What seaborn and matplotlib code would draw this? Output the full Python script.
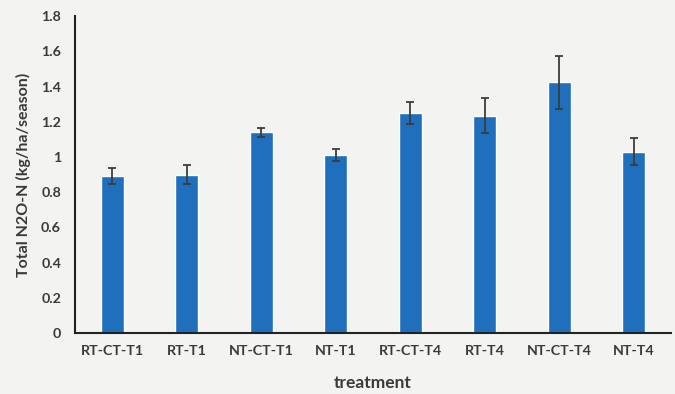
import matplotlib
matplotlib.use('Agg')
import matplotlib.pyplot as plt
import seaborn as sns
import pandas as pd

# 数据
treatments = ['RT-CT-T1', 'RT-T1', 'NT-CT-T1', 'NT-T1',
              'RT-CT-T4', 'RT-T4', 'NT-CT-T4', 'NT-T4']
n2o_total = [0.89, 0.90, 1.14, 1.01, 1.25, 1.235, 1.425, 1.03]
n2o_err = [0.045, 0.055, 0.025, 0.035, 0.065, 0.10, 0.15, 0.075]
y_ticks = [0, 0.2, 0.4, 0.6, 0.8, 1, 1.2, 1.4, 1.6, 1.8]
y_tick_labels = ['0', '0.2', '0.4', '0.6', '0.8', '1', '1.2', '1.4', '1.6', '1.8']

bg = '#f3f3f1'
bar_color = '#1f6fbd'
text_color = '#3a3a3a'

sns.set_style('white')
plt.rcParams['font.family'] = ['Lato', 'DejaVu Sans']

df = pd.DataFrame({'treatment': treatments, 'n2o': n2o_total, 'err': n2o_err})

fig = plt.figure(figsize=(6.75, 3.94), dpi=100, facecolor=bg)
ax = fig.add_axes([0.111, 0.155, 0.883, 0.804])
ax.set_facecolor(bg)

sns.barplot(data=df, x='treatment', y='n2o', color=bar_color, saturation=1,
            width=0.31, errorbar=None, ax=ax)
ax.errorbar(x=range(len(df)), y=df['n2o'], yerr=df['err'], fmt='none',
            ecolor='#3d3d38', elinewidth=1.3, capsize=3, capthick=1.3)

ax.set_ylim(0, 1.8)
ax.set_yticks(y_ticks)
ax.set_yticklabels(y_tick_labels)
ax.set_xlim(-0.5, len(treatments) - 0.5)
ax.tick_params(axis='both', length=0, colors=text_color, labelsize=10.3)
ax.tick_params(axis='y', pad=10)
ax.tick_params(axis='x', pad=9)
for lab in ax.get_xticklabels() + ax.get_yticklabels():
    lab.set_fontweight('bold')

sns.despine(ax=ax, top=True, right=True)
ax.spines['left'].set_color('#222222')
ax.spines['bottom'].set_color('#222222')
ax.spines['left'].set_linewidth(1.5)
ax.spines['bottom'].set_linewidth(1.5)

ax.set_xlabel('treatment', color=text_color, fontsize=12.5, fontweight='bold', labelpad=13)
ax.set_ylabel('Total N2O-N (kg/ha/season)', color=text_color, fontsize=11.5,
              fontweight='bold', labelpad=7)

fig.savefig('out.png', dpi=100, facecolor=bg)
